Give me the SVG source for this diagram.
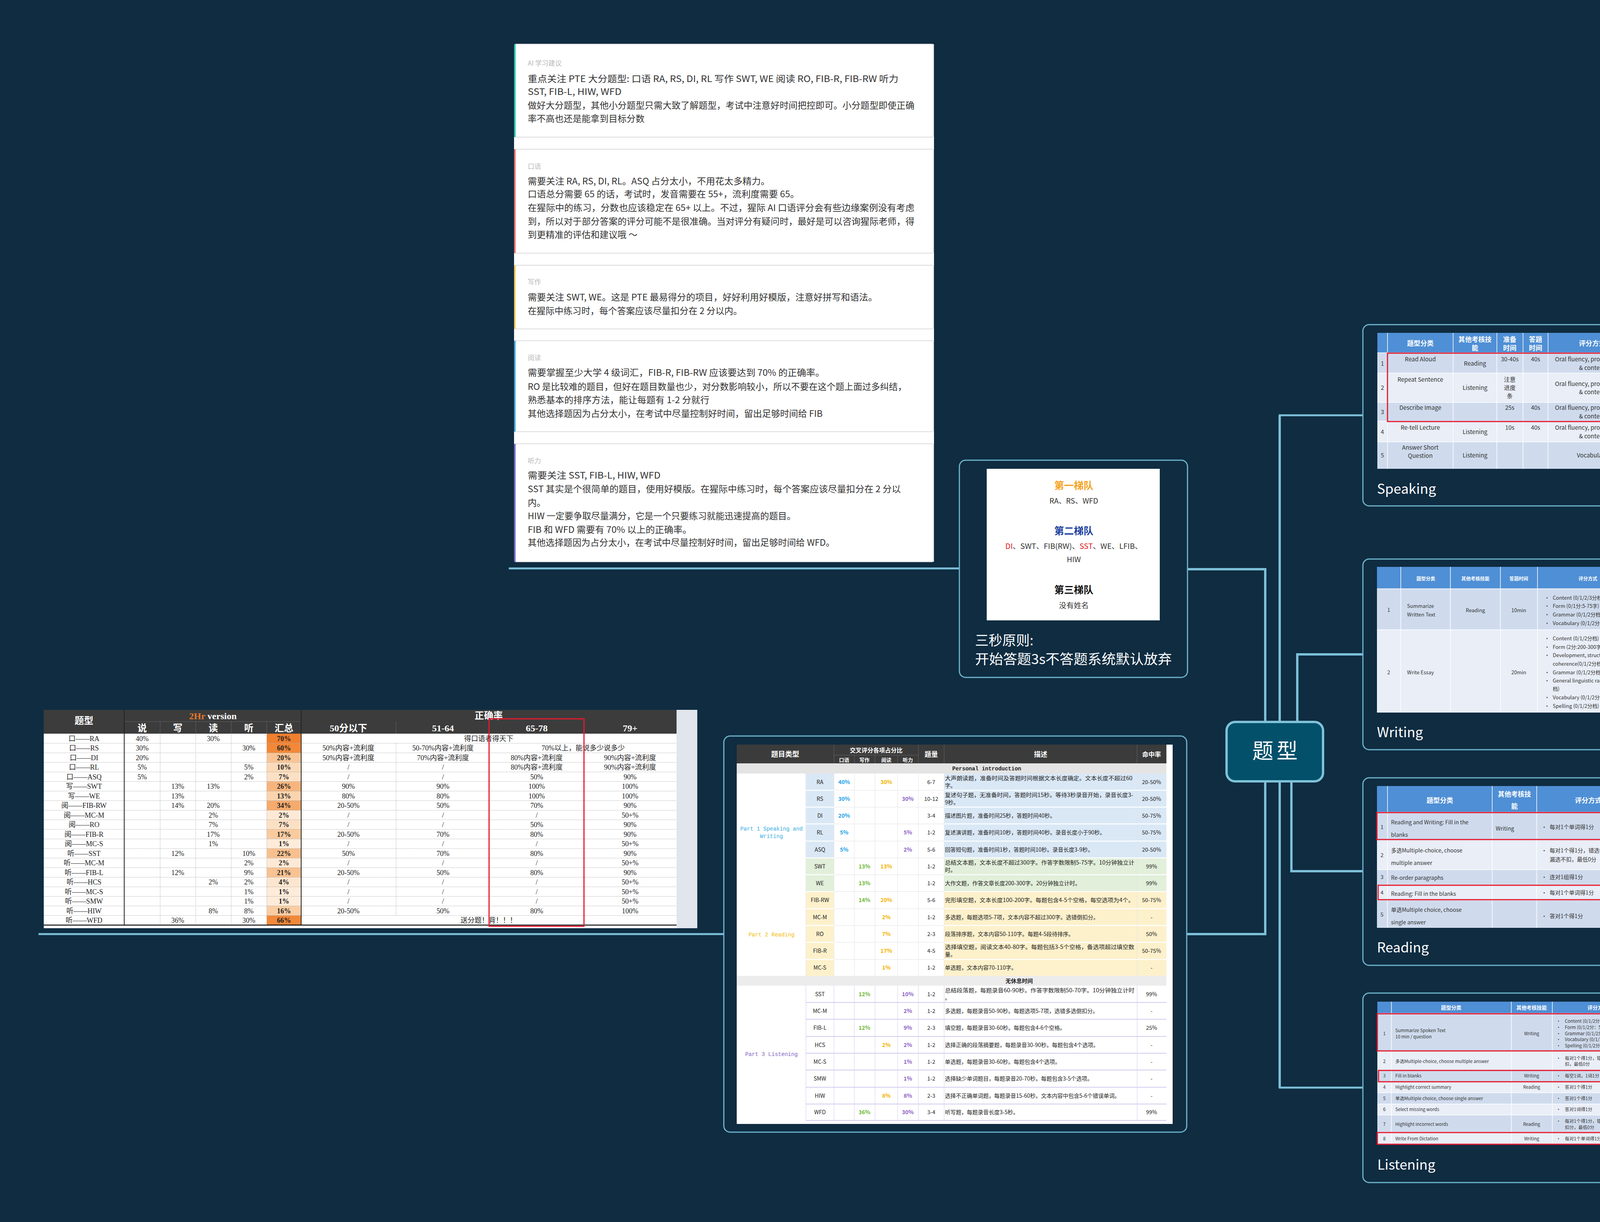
<svg xmlns="http://www.w3.org/2000/svg" width="5302" height="3128" viewBox="0 0 5302 3128">
<defs>
<style>
.conn{fill:none;stroke:#7cc0d8;stroke-width:5;stroke-linecap:square;stroke-linejoin:miter}
.main{stroke-width:6;stroke-linecap:butt}
.nbox{fill:#0f2c41;stroke:#6fb4cc;stroke-width:3}
.lbl{font-family:"Noto Sans CJK SC","Noto Sans",sans-serif;font-size:28px;fill:#fff}
.ttl{font-family:"Noto Sans CJK SC","Noto Sans",sans-serif;font-size:35px;fill:#fff}
.card{fill:#fff;stroke:#dcdcdc;stroke-width:2}
.clab{font-family:"Noto Sans CJK SC","Noto Sans",sans-serif;font-size:17px;fill:#b8b8b8}
.ctx{font-family:"Noto Sans CJK SC","Noto Sans",sans-serif;font-size:23px;fill:#333}
.red{fill:none;stroke:#e5192e;stroke-width:3}
.th{font-family:"Noto Sans CJK SC","Noto Sans",sans-serif;font-weight:bold;fill:#fff;text-anchor:middle}
.td{font-family:"Noto Sans CJK SC","Noto Sans",sans-serif;fill:#333}
.c{text-anchor:middle}
.wl{stroke:#fff;stroke-width:1.5}
.hdr{fill:#4f8fd5}
.ra{fill:#cfdbed}
.rb{fill:#e9eef7}
.ss{font-family:"Liberation Serif","Noto Sans CJK SC",serif;font-size:18px;fill:#222;text-anchor:middle}
.ssh{font-family:"Liberation Serif","Noto Sans CJK SC",serif;font-size:24px;font-weight:bold;fill:#fff;text-anchor:middle}
.dot{stroke:#999;stroke-width:1;stroke-dasharray:2 2}
.mt{font-family:"Noto Sans CJK SC","Noto Sans",sans-serif;font-size:14px;fill:#222}
.mtb{font-family:"Noto Sans CJK SC","Noto Sans",sans-serif;font-size:14px;font-weight:bold;text-anchor:middle}
.pk{fill:#1ca0e6}.pw{fill:#6fb83a}.pr{fill:#f2b100}.pl{fill:#8c5fc6}
.gl{stroke:#e2e2e2;stroke-width:1}
.ll{stroke:#d3cbee;stroke-width:2}
</style>
</defs>
<rect x="0" y="0" width="5302" height="3128" fill="#0f2c41"/>

<g id="connectors" class="conn">
<path class="main" d="M3276,1063 V2784"/>
<path d="M3276,1063 H3489 M3276,2784 H3489"/>
<path class="main" d="M3321,1848 V1675 H3489"/>
<path class="main" d="M3306,2000 V2230 H3489"/>
<path class="main" d="M3239,1848 V1457 H3040"/>
<path class="main" d="M3239,2000 V2391 H3038"/>
<path d="M1305,1455 H2456"/>
<path d="M101,2391 H1853"/>
<path d="M4226,1062 H4252 M4252,846 V1314 M4252,846 H4855 M4252,1062 H4998 M4252,1314 H4855 M4562,937 V1148 M4562,937 H4780 M4562,1148 H4744 M4855,1271 V1357 M4855,1271 H5199 M4855,1357 H4993"/>
<path d="M4229,1674 H4256 M4256,1609 V1740 M4256,1609 H4874 M4256,1740 H4468"/>
<path d="M4235,2230 H4260 M4260,2189 V2272 M4260,2189 H4438 M4260,2272 H4602"/>
<path d="M4243,2785 H4268 M4268,2703 V2907 M4268,2703 H4730 M4268,2785 H4418 M4268,2907 H4555"/>
</g>

<g id="central">
<rect x="3140" y="1848" width="247" height="152" rx="22" fill="#03506b" stroke="#7fc2d8" stroke-width="6"/>
<text x="3268" y="1942" font-family="Noto Sans CJK SC, sans-serif" font-size="54" fill="#fff" text-anchor="middle" letter-spacing="8">题型</text>
</g>

<g id="advice-panel">
<rect x="1316" y="113" width="1075" height="1325" fill="#fff"/>
<rect class="card" x="1317" y="113" width="1073" height="238" rx="4"/>
<rect x="1316" y="113" width="4" height="238" fill="#2cc2b0"/>
<text class="clab" x="1351" y="168">AI 学习建议</text>
<text class="ctx" x="1351" y="210" textLength="949" lengthAdjust="spacingAndGlyphs">重点关注 PTE 大分题型: 口语 RA, RS, DI, RL 写作 SWT, WE 阅读 RO, FIB-R, FIB-RW 听力</text>
<text class="ctx" x="1351" y="243" textLength="240" lengthAdjust="spacingAndGlyphs">SST, FIB-L, HIW, WFD</text>
<text class="ctx" x="1351" y="278" textLength="990" lengthAdjust="spacingAndGlyphs">做好大分题型，其他小分题型只需大致了解题型，考试中注意好时间把控即可。小分题型即使正确</text>
<text class="ctx" x="1351" y="312" textLength="299" lengthAdjust="spacingAndGlyphs">率不高也还是能拿到目标分数</text>

<rect class="card" x="1317" y="382" width="1073" height="266" rx="4"/>
<rect x="1316" y="382" width="4" height="266" fill="#e8706a"/>
<text class="clab" x="1351" y="432">口语</text>
<text class="ctx" x="1351" y="472" textLength="620" lengthAdjust="spacingAndGlyphs">需要关注 RA, RS, DI, RL。ASQ 占分太小，不用花太多精力。</text>
<text class="ctx" x="1351" y="505" textLength="695" lengthAdjust="spacingAndGlyphs">口语总分需要 65 的话，考试时，发音需要在 55+，流利度需要 65。</text>
<text class="ctx" x="1351" y="540" textLength="990" lengthAdjust="spacingAndGlyphs">在猩际中的练习，分数也应该稳定在 65+ 以上。不过，猩际 AI 口语评分会有些边缘案例没有考虑</text>
<text class="ctx" x="1351" y="575" textLength="990" lengthAdjust="spacingAndGlyphs">到，所以对于部分答案的评分可能不是很准确。当对评分有疑问时，最好是可以咨询猩际老师，得</text>
<text class="ctx" x="1351" y="609" textLength="281" lengthAdjust="spacingAndGlyphs">到更精准的评估和建议哦 ～</text>

<rect class="card" x="1317" y="679" width="1073" height="163" rx="4"/>
<rect x="1316" y="679" width="4" height="163" fill="#f2c75c"/>
<text class="clab" x="1351" y="728">写作</text>
<text class="ctx" x="1351" y="769" textLength="895" lengthAdjust="spacingAndGlyphs">需要关注 SWT, WE。这是 PTE 最易得分的项目，好好利用好模版，注意好拼写和语法。</text>
<text class="ctx" x="1351" y="804" textLength="549" lengthAdjust="spacingAndGlyphs">在猩际中练习时，每个答案应该尽量扣分在 2 分以内。</text>

<rect class="card" x="1317" y="872" width="1073" height="233" rx="4"/>
<rect x="1316" y="872" width="4" height="233" fill="#4aa8d8"/>
<text class="clab" x="1351" y="922">阅读</text>
<text class="ctx" x="1351" y="962" textLength="760" lengthAdjust="spacingAndGlyphs">需要掌握至少大学 4 级词汇，FIB-R, FIB-RW 应该要达到 70% 的正确率。</text>
<text class="ctx" x="1351" y="998" textLength="970" lengthAdjust="spacingAndGlyphs">RO 是比较难的题目，但好在题目数量也少，对分数影响较小，所以不要在这个题上面过多纠结，</text>
<text class="ctx" x="1351" y="1032" textLength="465" lengthAdjust="spacingAndGlyphs">熟悉基本的排序方法，能让每题有 1-2 分就行</text>
<text class="ctx" x="1351" y="1067" textLength="755" lengthAdjust="spacingAndGlyphs">其他选择题因为占分太小，在考试中尽量控制好时间，留出足够时间给 FIB</text>

<rect class="card" x="1317" y="1136" width="1073" height="302" rx="4"/>
<rect x="1316" y="1136" width="4" height="302" fill="#7b6fd0"/>
<text class="clab" x="1351" y="1186">听力</text>
<text class="ctx" x="1351" y="1225" textLength="340" lengthAdjust="spacingAndGlyphs">需要关注 SST, FIB-L, HIW, WFD</text>
<text class="ctx" x="1351" y="1260" textLength="955" lengthAdjust="spacingAndGlyphs">SST 其实是个很简单的题目，使用好模版。在猩际中练习时，每个答案应该尽量扣分在 2 分以</text>
<text class="ctx" x="1351" y="1295">内。</text>
<text class="ctx" x="1351" y="1329" textLength="686" lengthAdjust="spacingAndGlyphs">HIW 一定要争取尽量满分，它是一个只要练习就能迅速提高的题目。</text>
<text class="ctx" x="1351" y="1364" textLength="420" lengthAdjust="spacingAndGlyphs">FIB 和 WFD 需要有 70% 以上的正确率。</text>
<text class="ctx" x="1351" y="1397" textLength="786" lengthAdjust="spacingAndGlyphs">其他选择题因为占分太小，在考试中尽量控制好时间，留出足够时间给 WFD。</text>
</g>

<g id="tier-node">
<rect class="nbox" x="2456" y="1178" width="584" height="556" rx="16"/>
<rect x="2526" y="1200" width="443" height="388" fill="#fff"/>
<g font-family="Noto Sans CJK SC, sans-serif" text-anchor="middle">
<text x="2749" y="1252" font-size="25" font-weight="bold" fill="#f5a21e">第一梯队</text>
<text x="2749" y="1289" font-size="19" fill="#333">RA、RS、WFD</text>
<text x="2749" y="1368" font-size="25" font-weight="bold" fill="#1b3f9e">第二梯队</text>
<text x="2749" y="1405" font-size="19" fill="#333" textLength="351" lengthAdjust="spacingAndGlyphs"><tspan fill="#e02020">DI</tspan>、SWT、FIB(RW)、<tspan fill="#e02020">SST</tspan>、WE、LFIB、</text>
<text x="2749" y="1439" font-size="19" fill="#333">HIW</text>
<text x="2749" y="1519" font-size="25" font-weight="bold" fill="#111">第三梯队</text>
<text x="2749" y="1557" font-size="19" fill="#333">没有姓名</text>
</g>
<text class="ttl" x="2496" y="1652" font-size="34">三秒原则:</text>
<text class="ttl" x="2496" y="1700" font-size="34" textLength="504" lengthAdjust="spacingAndGlyphs">开始答题3s不答题系统默认放弃</text>
</g>

<g id="score-sheet">
<rect x="112" y="1817" width="1673" height="559" fill="#e0e6ec"/>
<rect x="112" y="1817" width="1620" height="61" fill="#3c3c3c"/>
<rect x="112" y="1878" width="1620" height="498" fill="#fff"/>
<rect x="1732" y="1878" width="53" height="498" fill="#e0e6ec"/>
<g>
<rect x="683" y="1878" width="88" height="24.5" fill="#f07f2e"/>
<rect x="683" y="1902.5" width="88" height="24.5" fill="#f28838"/>
<rect x="683" y="1927" width="88" height="24.5" fill="#f9c596"/>
<rect x="683" y="1951.5" width="88" height="24.5" fill="#fbdab9"/>
<rect x="683" y="1976" width="88" height="24.5" fill="#fce0c4"/>
<rect x="683" y="2000.5" width="88" height="24.5" fill="#f7b57d"/>
<rect x="683" y="2025" width="88" height="24.5" fill="#fad4ae"/>
<rect x="683" y="2049.5" width="88" height="24.5" fill="#f6aa6c"/>
<rect x="683" y="2074" width="88" height="24.5" fill="#fde9d5"/>
<rect x="683" y="2098.5" width="88" height="24.5" fill="#fce0c4"/>
<rect x="683" y="2123" width="88" height="24.5" fill="#f9cb9f"/>
<rect x="683" y="2147.5" width="88" height="24.5" fill="#feebd9"/>
<rect x="683" y="2172" width="88" height="24.5" fill="#f8c08f"/>
<rect x="683" y="2196.5" width="88" height="24.5" fill="#fde9d5"/>
<rect x="683" y="2221" width="88" height="24.5" fill="#f8c292"/>
<rect x="683" y="2245.5" width="88" height="24.5" fill="#fde6cf"/>
<rect x="683" y="2270" width="88" height="24.5" fill="#feebd9"/>
<rect x="683" y="2294.5" width="88" height="24.5" fill="#feebd9"/>
<rect x="683" y="2319" width="88" height="24.5" fill="#facda3"/>
<rect x="683" y="2343.5" width="88" height="24.5" fill="#f28838"/>
</g>
<g class="dot">
<path d="M112,1902.5 H1732 M112,1927 H1732 M112,1951.5 H1732 M112,1976 H1732 M112,2000.5 H1732 M112,2025 H1732 M112,2049.5 H1732 M112,2074 H1732 M112,2098.5 H1732 M112,2123 H1732 M112,2147.5 H1732 M112,2172 H1732 M112,2196.5 H1732 M112,2221 H1732 M112,2245.5 H1732 M112,2270 H1732 M112,2294.5 H1732 M112,2319 H1732 M112,2343.5 H1732"/>
<path d="M410,1878 V2368 M501,1878 V2368 M592,1878 V2368 M683,1878 V2368 M1014,1902.5 V2343.5"/>
<path d="M318,1847 H771 M410,1847 V1878 M501,1847 V1878 M592,1847 V1878 M683,1847 V1878 M1014,1847 V1878" stroke="#888"/>
</g>
<path d="M318,1817 V2368 M771,1817 V2368" stroke="#222" stroke-width="2"/>
<path d="M112,2368 H1732" stroke="#111" stroke-width="2.5"/>
<text class="ssh" x="215" y="1853">题型</text>
<text class="ssh" x="545" y="1841" font-family="Liberation Mono, monospace"><tspan fill="#e8782c">2Hr</tspan> version</text>
<text class="ssh" x="364" y="1872">说</text>
<text class="ssh" x="455" y="1872">写</text>
<text class="ssh" x="546" y="1872">读</text>
<text class="ssh" x="637" y="1872">听</text>
<text class="ssh" x="727" y="1872">汇总</text>
<text class="ssh" x="1251" y="1840">正确率</text>
<text class="ssh" x="892" y="1872" font-size="22">50分以下</text>
<text class="ssh" x="1134" y="1872">51-64</text>
<text class="ssh" x="1374" y="1872">65-78</text>
<text class="ssh" x="1613" y="1872">79+</text>
<g class="ss">
<text x="215" y="1896.5">口——RA</text><text x="364" y="1896.5">40%</text><text x="546" y="1896.5">30%</text><text x="727" y="1896.5" font-weight="bold">70%</text><text x="1251" y="1896.5">得口语者得天下</text>
<text x="215" y="1921">口——RS</text><text x="364" y="1921">30%</text><text x="637" y="1921">30%</text><text x="727" y="1921" font-weight="bold">60%</text><text x="892" y="1921">50%内容+流利度</text><text x="1134" y="1921">50-70%内容+流利度</text><text x="1493" y="1921">70%以上，能说多少说多少</text>
<text x="215" y="1945.5">口——DI</text><text x="364" y="1945.5">20%</text><text x="727" y="1945.5" font-weight="bold">20%</text><text x="892" y="1945.5">50%内容+流利度</text><text x="1134" y="1945.5">70%内容+流利度</text><text x="1374" y="1945.5">80%内容+流利度</text><text x="1613" y="1945.5">90%内容+流利度</text>
<text x="215" y="1970">口——RL</text><text x="364" y="1970">5%</text><text x="637" y="1970">5%</text><text x="727" y="1970" font-weight="bold">10%</text><text x="892" y="1970">/</text><text x="1134" y="1970">/</text><text x="1374" y="1970">80%内容+流利度</text><text x="1613" y="1970">90%内容+流利度</text>
<text x="215" y="1994.5">口——ASQ</text><text x="364" y="1994.5">5%</text><text x="637" y="1994.5">2%</text><text x="727" y="1994.5" font-weight="bold">7%</text><text x="892" y="1994.5">/</text><text x="1134" y="1994.5">/</text><text x="1374" y="1994.5">50%</text><text x="1613" y="1994.5">90%</text>
<text x="215" y="2019">写——SWT</text><text x="455" y="2019">13%</text><text x="546" y="2019">13%</text><text x="727" y="2019" font-weight="bold">26%</text><text x="892" y="2019">90%</text><text x="1134" y="2019">90%</text><text x="1374" y="2019">100%</text><text x="1613" y="2019">100%</text>
<text x="215" y="2043.5">写——WE</text><text x="455" y="2043.5">13%</text><text x="727" y="2043.5" font-weight="bold">13%</text><text x="892" y="2043.5">80%</text><text x="1134" y="2043.5">80%</text><text x="1374" y="2043.5">100%</text><text x="1613" y="2043.5">100%</text>
<text x="215" y="2068">阅——FIB-RW</text><text x="455" y="2068">14%</text><text x="546" y="2068">20%</text><text x="727" y="2068" font-weight="bold">34%</text><text x="892" y="2068">20-50%</text><text x="1134" y="2068">50%</text><text x="1374" y="2068">70%</text><text x="1613" y="2068">90%</text>
<text x="215" y="2092.5">阅——MC-M</text><text x="546" y="2092.5">2%</text><text x="727" y="2092.5" font-weight="bold">2%</text><text x="892" y="2092.5">/</text><text x="1134" y="2092.5">/</text><text x="1374" y="2092.5">/</text><text x="1613" y="2092.5">50+%</text>
<text x="215" y="2117">阅——RO</text><text x="546" y="2117">7%</text><text x="727" y="2117" font-weight="bold">7%</text><text x="892" y="2117">/</text><text x="1134" y="2117">/</text><text x="1374" y="2117">50%</text><text x="1613" y="2117">90%</text>
<text x="215" y="2141.5">阅——FIB-R</text><text x="546" y="2141.5">17%</text><text x="727" y="2141.5" font-weight="bold">17%</text><text x="892" y="2141.5">20-50%</text><text x="1134" y="2141.5">70%</text><text x="1374" y="2141.5">80%</text><text x="1613" y="2141.5">90%</text>
<text x="215" y="2166">阅——MC-S</text><text x="546" y="2166">1%</text><text x="727" y="2166" font-weight="bold">1%</text><text x="892" y="2166">/</text><text x="1134" y="2166">/</text><text x="1374" y="2166">/</text><text x="1613" y="2166">50+%</text>
<text x="215" y="2190.5">听——SST</text><text x="455" y="2190.5">12%</text><text x="637" y="2190.5">10%</text><text x="727" y="2190.5" font-weight="bold">22%</text><text x="892" y="2190.5">50%</text><text x="1134" y="2190.5">70%</text><text x="1374" y="2190.5">80%</text><text x="1613" y="2190.5">90%</text>
<text x="215" y="2215">听——MC-M</text><text x="637" y="2215">2%</text><text x="727" y="2215" font-weight="bold">2%</text><text x="892" y="2215">/</text><text x="1134" y="2215">/</text><text x="1374" y="2215">/</text><text x="1613" y="2215">50+%</text>
<text x="215" y="2239.5">听——FIB-L</text><text x="455" y="2239.5">12%</text><text x="637" y="2239.5">9%</text><text x="727" y="2239.5" font-weight="bold">21%</text><text x="892" y="2239.5">20-50%</text><text x="1134" y="2239.5">50%</text><text x="1374" y="2239.5">80%</text><text x="1613" y="2239.5">90%</text>
<text x="215" y="2264">听——HCS</text><text x="546" y="2264">2%</text><text x="637" y="2264">2%</text><text x="727" y="2264" font-weight="bold">4%</text><text x="892" y="2264">/</text><text x="1134" y="2264">/</text><text x="1374" y="2264">/</text><text x="1613" y="2264">50+%</text>
<text x="215" y="2288.5">听——MC-S</text><text x="637" y="2288.5">1%</text><text x="727" y="2288.5" font-weight="bold">1%</text><text x="892" y="2288.5">/</text><text x="1134" y="2288.5">/</text><text x="1374" y="2288.5">/</text><text x="1613" y="2288.5">50+%</text>
<text x="215" y="2313">听——SMW</text><text x="637" y="2313">1%</text><text x="727" y="2313" font-weight="bold">1%</text><text x="892" y="2313">/</text><text x="1134" y="2313">/</text><text x="1374" y="2313">/</text><text x="1613" y="2313">50+%</text>
<text x="215" y="2337.5">听——HIW</text><text x="546" y="2337.5">8%</text><text x="637" y="2337.5">8%</text><text x="727" y="2337.5" font-weight="bold">16%</text><text x="892" y="2337.5">20-50%</text><text x="1134" y="2337.5">50%</text><text x="1374" y="2337.5">80%</text><text x="1613" y="2337.5">100%</text>
<text x="215" y="2362">听——WFD</text><text x="455" y="2362">36%</text><text x="637" y="2362">30%</text><text x="727" y="2362" font-weight="bold">66%</text><text x="1251" y="2362">送分题！背！！！</text>
</g>
<rect class="red" x="1252" y="1840" width="243" height="531" stroke-width="4"/>
</g>

<g id="type-table-node">
<rect class="nbox" x="1853" y="1884" width="1185" height="1014" rx="16"/>
<rect x="1886" y="1906" width="1116" height="971" fill="#fff"/>
<rect x="1886" y="1906" width="1100" height="48" fill="#3b3b3b"/>
<rect x="1886" y="1954" width="1100" height="26" fill="#e4e4e4"/>
<rect x="2063" y="1980" width="72" height="216" fill="#dae8f6"/>
<rect x="2417" y="1980" width="569" height="216" fill="#dae8f6"/>
<rect x="2063" y="2196" width="72" height="86" fill="#e2efda"/>
<rect x="2417" y="2196" width="569" height="86" fill="#e2efda"/>
<rect x="2063" y="2282" width="72" height="216" fill="#fdf1cc"/>
<rect x="2417" y="2282" width="569" height="216" fill="#fdf1cc"/>
<rect x="1886" y="2498" width="1100" height="25" fill="#ececec"/>
<g class="gl">
<path d="M2063,1980 V2498 M2135,1980 V2498 M2187,1980 V2498 M2240,1980 V2498 M2298,1980 V2498 M2351,1980 V2498 M2417,1980 V2498 M2911,1980 V2498"/>
<path d="M2135,2023 H2417 M2135,2066 H2417 M2135,2109 H2417 M2135,2153 H2417 M2135,2196 H2417 M2135,2239 H2417 M2135,2282 H2417 M2135,2326 H2417 M2135,2369 H2417 M2135,2412 H2417 M2135,2456 H2417"/>
</g>
<path d="M2063,2023 H2135 M2063,2066 H2135 M2063,2109 H2135 M2063,2153 H2135 M2063,2196 H2135 M2063,2239 H2135 M2063,2282 H2135 M2063,2326 H2135 M2063,2369 H2135 M2063,2412 H2135 M2063,2456 H2135 M2417,2023 H2986 M2417,2066 H2986 M2417,2109 H2986 M2417,2153 H2986 M2417,2196 H2986 M2417,2239 H2986 M2417,2282 H2986 M2417,2326 H2986 M2417,2369 H2986 M2417,2412 H2986 M2417,2456 H2986" stroke="#fff" stroke-width="2.5"/>
<g class="ll">
<path d="M2063,2566 H2986 M2063,2609 H2986 M2063,2653 H2986 M2063,2696 H2986 M2063,2739 H2986 M2063,2783 H2986 M2063,2826 H2986 M2063,2868 H2986"/>
<path d="M2063,2523 V2868 M2135,2523 V2868 M2187,2523 V2868 M2240,2523 V2868 M2298,2523 V2868 M2351,2523 V2868 M2417,2523 V2868 M2911,2523 V2868" stroke-width="1"/>
</g>
<path d="M2135,1933 H2351 M2187,1933 V1954 M2240,1933 V1954 M2298,1933 V1954 M2135,1906 V1954 M2351,1906 V1954 M2417,1906 V1954 M2911,1906 V1954" stroke="#666" stroke-width="1"/>
<g class="th">
<text x="2010" y="1937" font-size="18">题目类型</text>
<text x="2243" y="1926" font-size="15">交叉评分各项占分比</text>
<text x="2161" y="1950" font-size="13">口语</text>
<text x="2213" y="1950" font-size="13">写作</text>
<text x="2269" y="1950" font-size="13">阅读</text>
<text x="2324" y="1950" font-size="13">听力</text>
<text x="2384" y="1937" font-size="17">题量</text>
<text x="2664" y="1937" font-size="17">描述</text>
<text x="2948" y="1937" font-size="16">命中率</text>
</g>
<text x="2526" y="1972" font-family="Liberation Mono, monospace" font-size="14" font-weight="bold" fill="#222" text-anchor="middle">Personal introduction</text>
<text x="2609" y="2516" class="mtb" fill="#222" font-size="15">无休息时间</text>
<g font-family="Liberation Mono, monospace" font-size="14" text-anchor="middle">
<text x="1975" y="2126" fill="#36a9e1">Part 1 Speaking and</text>
<text x="1975" y="2145" fill="#36a9e1">Writing</text>
<text x="1975" y="2397" fill="#f2b705">Part 2 Reading</text>
<text x="1975" y="2703" fill="#7d5fbf">Part 3 Listening</text>
</g>
<g class="mt" text-anchor="middle">
<text x="2099" y="2007">RA</text><text x="2384" y="2007">6-7</text><text x="2948" y="2007">20-50%</text>
<text x="2099" y="2050">RS</text><text x="2384" y="2050">10-12</text><text x="2948" y="2050">20-50%</text>
<text x="2099" y="2093">DI</text><text x="2384" y="2093">3-4</text><text x="2948" y="2093">50-75%</text>
<text x="2099" y="2136">RL</text><text x="2384" y="2136">1-2</text><text x="2948" y="2136">50-75%</text>
<text x="2099" y="2180">ASQ</text><text x="2384" y="2180">5-6</text><text x="2948" y="2180">20-50%</text>
<text x="2099" y="2223">SWT</text><text x="2384" y="2223">1-2</text><text x="2948" y="2223">99%</text>
<text x="2099" y="2266">WE</text><text x="2384" y="2266">1-2</text><text x="2948" y="2266">99%</text>
<text x="2099" y="2309">FIB-RW</text><text x="2384" y="2309">5-6</text><text x="2948" y="2309">50-75%</text>
<text x="2099" y="2353">MC-M</text><text x="2384" y="2353">1-2</text><text x="2948" y="2353">-</text>
<text x="2099" y="2396">RO</text><text x="2384" y="2396">2-3</text><text x="2948" y="2396">50%</text>
<text x="2099" y="2439">FIB-R</text><text x="2384" y="2439">4-5</text><text x="2948" y="2439">50-75%</text>
<text x="2099" y="2482">MC-S</text><text x="2384" y="2482">1-2</text><text x="2948" y="2482">-</text>
<text x="2099" y="2550">SST</text><text x="2384" y="2550">1-2</text><text x="2948" y="2550">99%</text>
<text x="2099" y="2593">MC-M</text><text x="2384" y="2593">1-2</text><text x="2948" y="2593">-</text>
<text x="2099" y="2636">FIB-L</text><text x="2384" y="2636">2-3</text><text x="2948" y="2636">25%</text>
<text x="2099" y="2680">HCS</text><text x="2384" y="2680">1-2</text><text x="2948" y="2680">-</text>
<text x="2099" y="2723">MC-S</text><text x="2384" y="2723">1-2</text><text x="2948" y="2723">-</text>
<text x="2099" y="2766">SMW</text><text x="2384" y="2766">1-2</text><text x="2948" y="2766">-</text>
<text x="2099" y="2810">HIW</text><text x="2384" y="2810">2-3</text><text x="2948" y="2810">-</text>
<text x="2099" y="2852">WFD</text><text x="2384" y="2852">3-4</text><text x="2948" y="2852">99%</text>
</g>
<g class="mtb">
<text class="pk" x="2161" y="2007">40%</text><text class="pr" x="2269" y="2007">30%</text>
<text class="pk" x="2161" y="2050">30%</text><text class="pl" x="2324" y="2050">30%</text>
<text class="pk" x="2161" y="2093">20%</text>
<text class="pk" x="2161" y="2136">5%</text><text class="pl" x="2324" y="2136">5%</text>
<text class="pk" x="2161" y="2180">5%</text><text class="pl" x="2324" y="2180">2%</text>
<text class="pw" x="2213" y="2223">13%</text><text class="pr" x="2269" y="2223">13%</text>
<text class="pw" x="2213" y="2266">13%</text>
<text class="pw" x="2213" y="2309">14%</text><text class="pr" x="2269" y="2309">20%</text>
<text class="pr" x="2269" y="2353">2%</text>
<text class="pr" x="2269" y="2396">7%</text>
<text class="pr" x="2269" y="2439">17%</text>
<text class="pr" x="2269" y="2482">1%</text>
<text class="pw" x="2213" y="2550">12%</text><text class="pl" x="2324" y="2550">10%</text>
<text class="pl" x="2324" y="2593">2%</text>
<text class="pw" x="2213" y="2636">12%</text><text class="pl" x="2324" y="2636">9%</text>
<text class="pr" x="2269" y="2680">2%</text><text class="pl" x="2324" y="2680">2%</text>
<text class="pl" x="2324" y="2723">1%</text>
<text class="pl" x="2324" y="2766">1%</text>
<text class="pr" x="2269" y="2810">8%</text><text class="pl" x="2324" y="2810">8%</text>
<text class="pw" x="2213" y="2852">36%</text><text class="pl" x="2324" y="2852">30%</text>
</g>
<g class="mt">
<text x="2419" y="1997" textLength="480" lengthAdjust="spacingAndGlyphs">大声朗读题，准备时间及答题时间根据文本长度确定。文本长度不超过60</text>
<text x="2419" y="2016">字。</text>
<text x="2419" y="2040" textLength="482" lengthAdjust="spacingAndGlyphs">复述句子题，无准备时间，答题时间15秒。等待3秒录音开始，录音长度3-</text>
<text x="2419" y="2059">9秒。</text>
<text x="2419" y="2093">描述图片题，准备时间25秒，答题时间40秒。</text>
<text x="2419" y="2136">复述演讲题，准备时间10秒，答题时间40秒。录音长度小于90秒。</text>
<text x="2419" y="2180">回答短句题，准备时间1秒，答题时间10秒。录音长度3-9秒。</text>
<text x="2419" y="2213" textLength="485" lengthAdjust="spacingAndGlyphs">总结文本题，文本长度不超过300字。作答字数限制5-75字。10分钟独立计</text>
<text x="2419" y="2232">时。</text>
<text x="2419" y="2266">大作文题，作答文章长度200-300字。20分钟独立计时。</text>
<text x="2419" y="2309" textLength="484" lengthAdjust="spacingAndGlyphs">完形填空题，文本长度100-200字。每题包含4-5个空格，每空选项为4个。</text>
<text x="2419" y="2353">多选题，每题选项5-7项，文本内容不超过300字。选错倒扣分。</text>
<text x="2419" y="2396">段落排序题，文本内容50-110字。每题4-5段待排序。</text>
<text x="2419" y="2429" textLength="485" lengthAdjust="spacingAndGlyphs">选择填空题，阅读文本40-80字。每题包括3-5个空格，备选项超过填空数</text>
<text x="2419" y="2448">量。</text>
<text x="2419" y="2482">单选题，文本内容70-110字。</text>
<text x="2419" y="2540" textLength="485" lengthAdjust="spacingAndGlyphs">总结段落题，每题录音60-90秒。作答字数限制50-70字。10分钟独立计时</text>
<text x="2419" y="2559">。</text>
<text x="2419" y="2593">多选题，每题录音50-90秒。每题选项5-7项，选错多选倒扣分。</text>
<text x="2419" y="2636">填空题，每题录音30-60秒。每题包含4-6个空格。</text>
<text x="2419" y="2680">选择正确的段落摘要题，每题录音30-90秒。每题包含4个选项。</text>
<text x="2419" y="2723">单选题，每题录音30-60秒。每题包含4个选项。</text>
<text x="2419" y="2766">选择缺少单词题目，每题录音20-70秒。每题包含3-5个选项。</text>
<text x="2419" y="2810">选择不正确单词题，每题录音15-60秒。文本内容中包含5-6个错误单词。</text>
<text x="2419" y="2852">听写题，每题录音长度3-5秒。</text>
</g>
</g>

<g id="speaking">
<rect class="nbox" x="3489" y="831" width="737" height="464" rx="16"/>
<rect class="hdr" x="3526" y="852" width="664" height="51"/>
<rect class="ra" x="3526" y="903" width="664" height="52"/>
<rect class="rb" x="3526" y="955" width="664" height="75"/>
<rect class="ra" x="3526" y="1030" width="664" height="48"/>
<rect class="rb" x="3526" y="1078" width="664" height="53"/>
<rect class="ra" x="3526" y="1131" width="664" height="69"/>
<path class="wl" d="M3552,852 V1200 M3720,852 V1200 M3832,852 V1200 M3899,852 V1200 M3963,852 V1200 M3526,903 H4190 M3526,955 H4190 M3526,1030 H4190 M3526,1078 H4190 M3526,1131 H4190"/>
<g class="th" font-size="17">
<text x="3636" y="885">题型分类</text>
<text x="3776" y="875">其他考核技</text><text x="3776" y="897">能</text>
<text x="3865" y="875">准备</text><text x="3865" y="897">时间</text>
<text x="3931" y="875">答题</text><text x="3931" y="897">时间</text>
<text x="4076" y="885">评分方式</text>
</g>
<g class="td c" font-size="15">
<text x="3539" y="936">1</text><text x="3636" y="925">Read Aloud</text><text x="3776" y="936">Reading</text><text x="3865" y="925">30-40s</text><text x="3931" y="925">40s</text><text x="4076" y="925">Oral fluency, pronunciation</text><text x="4076" y="947">&amp; content</text>
<text x="3539" y="998">2</text><text x="3636" y="977">Repeat Sentence</text><text x="3776" y="998">Listening</text><text x="3865" y="977">注意</text><text x="3865" y="998">进度</text><text x="3865" y="1019">条</text><text x="4076" y="988">Oral fluency, pronunciation</text><text x="4076" y="1009">&amp; content</text>
<text x="3539" y="1060">3</text><text x="3636" y="1049">Describe Image</text><text x="3865" y="1049">25s</text><text x="3931" y="1049">40s</text><text x="4076" y="1049">Oral fluency, pronunciation</text><text x="4076" y="1071">&amp; content</text>
<text x="3539" y="1111">4</text><text x="3636" y="1100">Re-tell Lecture</text><text x="3776" y="1111">Listening</text><text x="3865" y="1100">10s</text><text x="3931" y="1100">40s</text><text x="4076" y="1100">Oral fluency, pronunciation</text><text x="4076" y="1122">&amp; content</text>
<text x="3539" y="1171">5</text><text x="3636" y="1151">Answer Short</text><text x="3636" y="1172">Question</text><text x="3776" y="1171">Listening</text><text x="4076" y="1171">Vocabulary</text>
</g>
<rect class="red" x="3552" y="904" width="637" height="175"/>
<text class="ttl" x="3525" y="1264">Speaking</text>
</g>

<g id="writing">
<rect class="nbox" x="3489" y="1431" width="740" height="488" rx="16"/>
<rect class="hdr" x="3525" y="1451" width="669" height="56"/>
<rect class="ra" x="3525" y="1507" width="669" height="105"/>
<rect class="rb" x="3525" y="1612" width="669" height="212"/>
<path class="wl" d="M3586,1451 V1824 M3713,1451 V1824 M3841,1451 V1824 M3936,1451 V1824 M3525,1507 H4194 M3525,1612 H4194"/>
<g class="th" font-size="12">
<text x="3650" y="1486">题型分类</text><text x="3777" y="1486">其他考核技能</text><text x="3888" y="1486">答题时间</text><text x="4065" y="1486">评分方式</text>
</g>
<g class="td" font-size="13">
<text x="3555" y="1566" class="c">1</text><text x="3602" y="1556">Summarize</text><text x="3602" y="1578">Written Text</text><text x="3777" y="1567" class="c">Reading</text><text x="3888" y="1567" class="c">10min</text>
<text x="3954" y="1535">•</text><text x="3975" y="1535">Content (0/1/2/3分档)</text>
<text x="3954" y="1556">•</text><text x="3975" y="1556">Form (0/1分:5-75字)</text>
<text x="3954" y="1578">•</text><text x="3975" y="1578">Grammar (0/1/2分档)</text>
<text x="3954" y="1600">•</text><text x="3975" y="1600">Vocabulary (0/1/2分档)</text>
<text x="3555" y="1726" class="c">2</text><text x="3602" y="1726">Write Essay</text><text x="3888" y="1726" class="c">20min</text>
<text x="3954" y="1639">•</text><text x="3975" y="1639">Content (0/1/2分档)</text>
<text x="3954" y="1661">•</text><text x="3975" y="1661">Form (2分:200-300字)</text>
<text x="3954" y="1682">•</text><text x="3975" y="1682">Development, structure and</text>
<text x="3975" y="1704">coherence(0/1/2分档)</text>
<text x="3954" y="1726">•</text><text x="3975" y="1726">Grammar (0/1/2分档)</text>
<text x="3954" y="1747">•</text><text x="3975" y="1747">General linguistic range (0/1/2分</text>
<text x="3975" y="1768">档)</text>
<text x="3954" y="1790">•</text><text x="3975" y="1790">Vocabulary (0/1/2分档)</text>
<text x="3954" y="1812">•</text><text x="3975" y="1812">Spelling (0/1/2分档)</text>
</g>
<text class="ttl" x="3525" y="1887">Writing</text>
</g>

<g id="reading">
<rect class="nbox" x="3489" y="1991" width="746" height="480" rx="16"/>
<rect class="hdr" x="3525" y="2012" width="673" height="67"/>
<rect class="ra" x="3525" y="2079" width="673" height="70"/>
<rect class="rb" x="3525" y="2149" width="673" height="77"/>
<rect class="ra" x="3525" y="2226" width="673" height="39"/>
<rect class="rb" x="3525" y="2265" width="673" height="39"/>
<rect class="ra" x="3525" y="2304" width="673" height="71"/>
<path class="wl" d="M3552,2012 V2375 M3820,2012 V2375 M3934,2012 V2375 M3525,2079 H4198 M3525,2149 H4198 M3525,2226 H4198 M3525,2265 H4198 M3525,2304 H4198"/>
<g class="th" font-size="17">
<text x="3686" y="2055">题型分类</text><text x="3877" y="2039">其他考核技</text><text x="3877" y="2070">能</text><text x="4066" y="2055">评分方式</text>
</g>
<g class="td" font-size="14">
<text x="3538" y="2122" class="c">1</text><text x="3561" y="2110">Reading and Writing: Fill in the</text><text x="3561" y="2142">blanks</text><text x="3829" y="2126">Writing</text><text x="3946" y="2122">•</text><text x="3967" y="2122">每对1个单词得1分</text>
<text x="3538" y="2194" class="c">2</text><text x="3561" y="2182">多选Multiple-choice, choose</text><text x="3561" y="2214">multiple answer</text><text x="3946" y="2182">•</text><text x="3967" y="2182">每对1个得1分，错选倒扣分，</text><text x="3967" y="2205">漏选不扣，最低0分</text>
<text x="3538" y="2250" class="c">3</text><text x="3561" y="2252">Re-order paragraphs</text><text x="3946" y="2250">•</text><text x="3967" y="2250">连对1组得1分</text>
<text x="3538" y="2290" class="c">4</text><text x="3561" y="2293">Reading: Fill in the blanks</text><text x="3946" y="2290">•</text><text x="3967" y="2290">每对1个单词得1分</text>
<text x="3538" y="2346" class="c">5</text><text x="3561" y="2334">单选Multiple choice, choose</text><text x="3561" y="2366">single answer</text><text x="3946" y="2350">•</text><text x="3967" y="2350">答对1个得1分</text>
</g>
<rect class="red" x="3525" y="2080" width="671" height="69"/>
<rect class="red" x="3528" y="2266" width="668" height="37"/>
<text class="ttl" x="3525" y="2438">Reading</text>
</g>

<g id="listening">
<rect class="nbox" x="3489" y="2542" width="754" height="485" rx="16"/>
<rect class="hdr" x="3526" y="2564" width="680" height="30"/>
<rect class="ra" x="3526" y="2594" width="680" height="96"/>
<rect class="rb" x="3526" y="2690" width="680" height="50"/>
<rect class="ra" x="3526" y="2740" width="680" height="29"/>
<rect class="rb" x="3526" y="2769" width="680" height="28"/>
<rect class="ra" x="3526" y="2797" width="680" height="29"/>
<rect class="rb" x="3526" y="2826" width="680" height="28"/>
<rect class="ra" x="3526" y="2854" width="680" height="44"/>
<rect class="rb" x="3526" y="2898" width="680" height="32"/>
<path class="wl" d="M3562,2564 V2930 M3869,2564 V2930 M3974,2564 V2930 M3526,2594 H4206 M3526,2690 H4206 M3526,2740 H4206 M3526,2769 H4206 M3526,2797 H4206 M3526,2826 H4206 M3526,2854 H4206 M3526,2898 H4206"/>
<g class="th" font-size="13">
<text x="3715" y="2584">题型分类</text><text x="3921" y="2584">其他考核技能</text><text x="4090" y="2584">评分方式</text>
</g>
<g class="td" font-size="11.5">
<text x="3544" y="2650" class="c">1</text><text x="3572" y="2642">Summarize Spoken Text</text><text x="3572" y="2658">10 min / question</text><text x="3921" y="2650" class="c">Writing</text>
<text x="3984" y="2618">•</text><text x="4006" y="2618">Content (0/1/2分档)</text>
<text x="3984" y="2634">•</text><text x="4006" y="2634">Form (0/1/2分：50-70字)</text>
<text x="3984" y="2650">•</text><text x="4006" y="2650">Grammar (0/1/2分档)</text>
<text x="3984" y="2665">•</text><text x="4006" y="2665">Vocabulary (0/1/2分档)</text>
<text x="3984" y="2681">•</text><text x="4006" y="2681">Spelling (0/1/2分档)</text>
<text x="3544" y="2721" class="c">2</text><text x="3572" y="2721">多选Multiple-choice, choose multiple answer</text><text x="3984" y="2713">•</text><text x="4006" y="2713">每对1个得1分，错选倒扣分，漏选不</text><text x="4006" y="2728">扣，最低0分</text>
<text x="3544" y="2758" class="c">3</text><text x="3572" y="2758">Fill in blanks</text><text x="3921" y="2758" class="c">Writing</text><text x="3984" y="2758">•</text><text x="4006" y="2758">每空1词，1词1分</text>
<text x="3544" y="2787" class="c">4</text><text x="3572" y="2787">Highlight correct summary</text><text x="3921" y="2787" class="c">Reading</text><text x="3984" y="2787">•</text><text x="4006" y="2787">答对1个得1分</text>
<text x="3544" y="2816" class="c">5</text><text x="3572" y="2816">单选Multiple choice, choose single answer</text><text x="3984" y="2816">•</text><text x="4006" y="2816">答对1个得1分</text>
<text x="3544" y="2844" class="c">6</text><text x="3572" y="2844">Select missing words</text><text x="3984" y="2844">•</text><text x="4006" y="2844">答对1词得1分</text>
<text x="3544" y="2882" class="c">7</text><text x="3572" y="2882">Highlight incorrect words</text><text x="3921" y="2882" class="c">Reading</text><text x="3984" y="2874">•</text><text x="4006" y="2874">每对1个得1分，错选倒扣分，漏选不</text><text x="4006" y="2890">扣分，最低0分</text>
<text x="3544" y="2919" class="c">8</text><text x="3572" y="2919">Write From Dictation</text><text x="3921" y="2919" class="c">Writing</text><text x="3984" y="2919">•</text><text x="4006" y="2919">每对1个单词得1分</text>
</g>
<rect class="red" x="3526" y="2595" width="676" height="95"/>
<rect class="red" x="3529" y="2740" width="672" height="29"/>
<rect class="red" x="3526" y="2899" width="671" height="30"/>
<text class="ttl" x="3526" y="2994">Listening</text>
</g>

<g id="speaking-notes" class="lbl">
<text x="4292" y="741">RA必须保证流利度</text>
<text x="4292" y="782">生词跳过</text>
<text x="4292" y="821">(每天15~20句)“猩际</text>
<text x="4617" y="821">40s读题+40s作答</text>
<text x="4292" y="958">RS必须保证流利度</text>
<text x="4292" y="999">力求复述50%</text>
<text x="4292" y="1037">每天50句</text>
<text x="4602" y="912">听完1s后作答</text>
<text x="4602" y="999">内容3分，2分50%</text>
<text x="4602" y="1040">若无法复述50%+ is important</text>
<text x="4602" y="1124">流利度5分</text>
<text x="4292" y="1208">DI</text>
<text x="4292" y="1247">流利度</text>
<text x="4292" y="1288">念错词不扣分</text>
<text x="4537" y="1208">描述顺序</text>
<text x="4574" y="1247">• 文字优先</text>
<text x="4574" y="1288">• 从上到下从左到右</text>
<text x="4897" y="1206">数据图</text>
<text x="4941" y="1247">• 数据&gt;3则只读首尾</text>
<text x="4901" y="1332"># 模板</text>
</g>

<g id="writing-notes" class="lbl">
<text x="4296" y="1505">SWT</text>
<text x="4296" y="1545">可刷到99%原题</text>
<text x="4296" y="1585">只能有1个句号</text>
<text x="4574" y="1585">可以抄句子,连接词连接</text>
<text x="4296" y="1677">WE</text>
<text x="4296" y="1717">20min200字</text>
</g>

<g id="reading-notes" class="lbl">
<text x="4300" y="2165">FIB分巨大</text>
<text x="4300" y="2247">多选就选一个 选错扣分</text>
</g>

<g id="listening-notes" class="lbl">
<text x="4307" y="2638">SST(第1题)</text>
<text x="4307" y="2678">10min用50-70单词总结听力重点</text>
<text x="4307" y="2760">FIB完形</text>
<text x="4307" y="2841">WFD(最后1题)</text>
<text x="4307" y="2882">听写句子 分值巨大</text>
</g>
</svg>
